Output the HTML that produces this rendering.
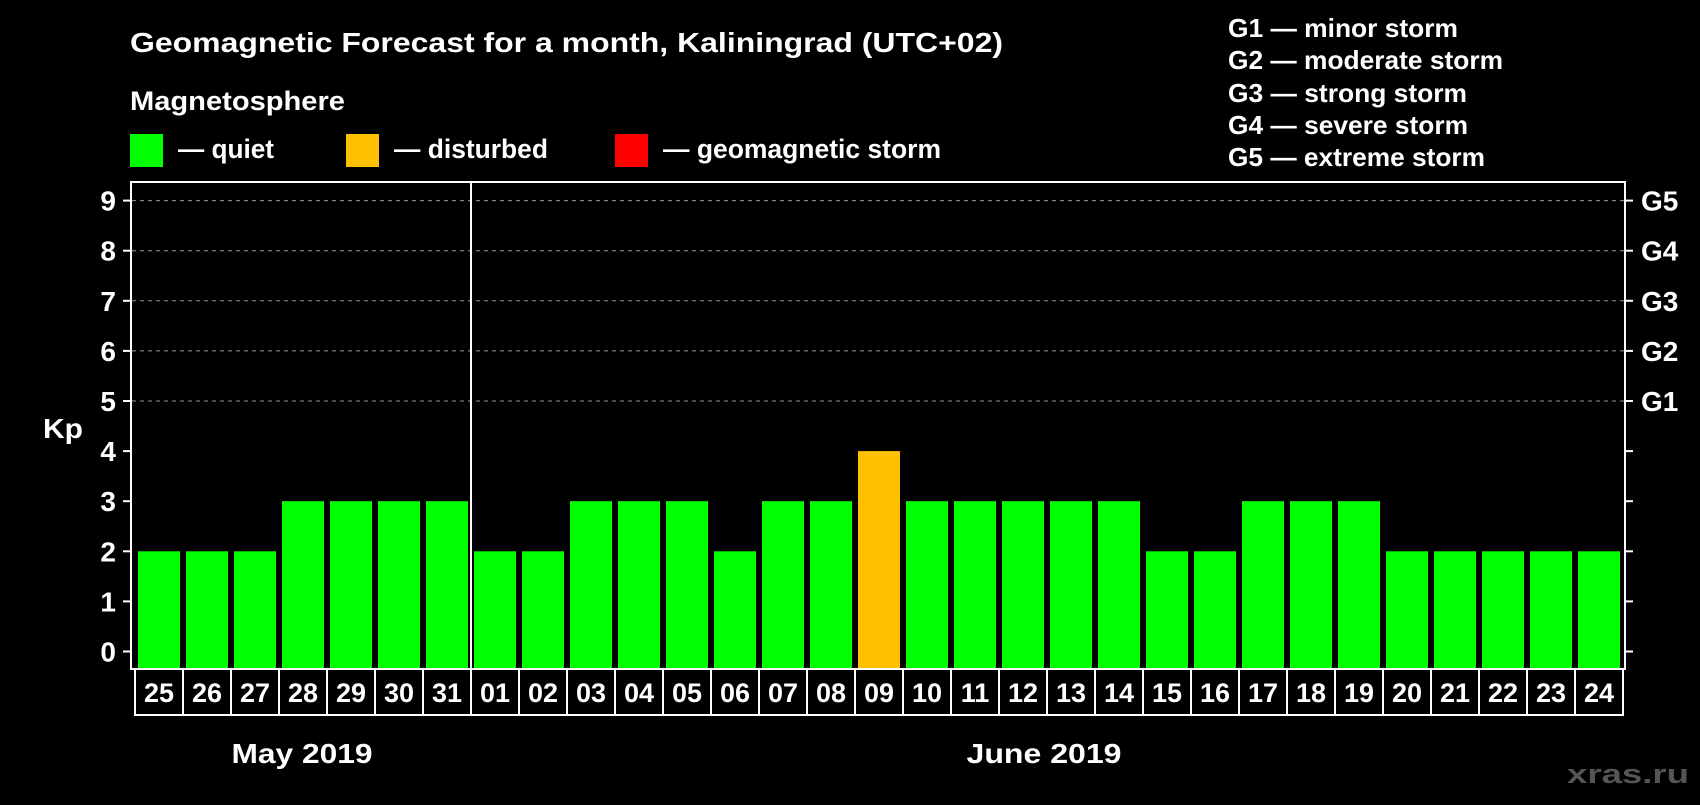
<!DOCTYPE html>
<html><head><meta charset="utf-8"><style>
html,body{margin:0;padding:0;background:#000;}
body{width:1700px;height:800px;overflow:hidden;font-family:"Liberation Sans",Arial,sans-serif;font-weight:bold;color:#fff;}
svg text{font-family:"Liberation Sans",Arial,sans-serif;font-weight:bold;}
</style></head><body>
<svg id="chart" width="1700" height="800" xmlns="http://www.w3.org/2000/svg">
<rect width="1700" height="800" fill="#000"/>
<text x="130" y="52" font-size="28" textLength="873" lengthAdjust="spacingAndGlyphs" fill="#fff">Geomagnetic Forecast for a month, Kaliningrad (UTC+02)</text>
<text x="130" y="110" font-size="27" textLength="215" lengthAdjust="spacingAndGlyphs" fill="#fff">Magnetosphere</text>
<g><rect x="130" y="134" width="33" height="33" fill="#00ff00"/><text x="178" y="158" font-size="27" textLength="96" lengthAdjust="spacingAndGlyphs" fill="#fff">— quiet</text></g>
<g><rect x="346" y="134" width="33" height="33" fill="#ffc000"/><text x="394" y="158" font-size="27" textLength="154" lengthAdjust="spacingAndGlyphs" fill="#fff">— disturbed</text></g>
<g><rect x="615" y="134" width="33" height="33" fill="#ff0000"/><text x="663" y="158" font-size="27" textLength="278" lengthAdjust="spacingAndGlyphs" fill="#fff">— geomagnetic storm</text></g>
<g font-size="26" fill="#fff">
<text x="1228" y="37" textLength="230" lengthAdjust="spacingAndGlyphs">G1 — minor storm</text>
<text x="1228" y="69" textLength="275" lengthAdjust="spacingAndGlyphs">G2 — moderate storm</text>
<text x="1228" y="102" textLength="239" lengthAdjust="spacingAndGlyphs">G3 — strong storm</text>
<text x="1228" y="134" textLength="240" lengthAdjust="spacingAndGlyphs">G4 — severe storm</text>
<text x="1228" y="166" textLength="257" lengthAdjust="spacingAndGlyphs">G5 — extreme storm</text>
</g>
<text x="43" y="438" font-size="28" textLength="40" lengthAdjust="spacingAndGlyphs" fill="#fff">Kp</text>
<g id="grid"></g>
<g id="bars"></g>
<rect x="131" y="182" width="1494" height="487" fill="none" stroke="#fff" stroke-width="2"/>
<line x1="471" y1="182" x2="471" y2="669" stroke="#fff" stroke-width="2"/>
<g id="dates"></g>
<text x="302" y="763" font-size="28" textLength="141" lengthAdjust="spacingAndGlyphs" fill="#fff" text-anchor="middle">May 2019</text>
<text x="1044" y="763" font-size="28" textLength="155" lengthAdjust="spacingAndGlyphs" fill="#fff" text-anchor="middle">June 2019</text>
<text x="1689" y="783" font-size="27" textLength="122" lengthAdjust="spacingAndGlyphs" fill="#555" text-anchor="end">xras.ru</text>
</svg>
<script>
const days = ["25","26","27","28","29","30","31","01","02","03","04","05","06","07","08","09","10","11","12","13","14","15","16","17","18","19","20","21","22","23","24"];
const kpValues = [2,2,2,3,3,3,3,2,2,3,3,3,2,3,3,4,3,3,3,3,3,2,2,3,3,3,2,2,2,2,2];
const yTicks = [0,1,2,3,4,5,6,7,8,9];
const gLabels = ["G1","G2","G3","G4","G5"];
const NS="http://www.w3.org/2000/svg";
const y0=651.5, unit=50.1, x0=135, pitch=48, barW=42, frameBottom=669, dateBottom=715;
const yS=v=>y0-v*unit;
const xS=i=>x0+i*pitch;
function mk(t,a,p){const e=document.createElementNS(NS,t);for(const k in a)e.setAttribute(k,a[k]);p.appendChild(e);return e;}
const grid=document.getElementById('grid');
yTicks.forEach(v=>{
  const y=yS(v);
  mk('line',{x1:123,y1:y,x2:131,y2:y,stroke:'#fff','stroke-width':2},grid);
  mk('line',{x1:1625,y1:y,x2:1633,y2:y,stroke:'#fff','stroke-width':2},grid);
  if(v>=5) mk('line',{x1:132,y1:y,x2:1624,y2:y,stroke:'#999','stroke-width':1,'stroke-dasharray':'4,4'},grid);
  const t=mk('text',{x:116,y:y+10,'font-size':28,fill:'#fff','text-anchor':'end'},grid);
  
  
  t.textContent=v;
});
gLabels.forEach((g,i)=>{
  const t=mk('text',{x:1641,y:yS(5+i)+10,'font-size':28,fill:'#fff'},grid);
  
  
  t.textContent=g;
});
const bars=document.getElementById('bars');
kpValues.forEach((v,i)=>{
  const col=v>=5?'#ff0000':(v>=4?'#ffc000':'#00ff00');
  const r=mk('rect',{x:xS(i)+3,y:yS(v),width:barW,height:frameBottom-yS(v),fill:col},bars);
  
  
});
const dates=document.getElementById('dates');
days.forEach((d,i)=>{
  const c=mk('rect',{x:xS(i),y:frameBottom,width:pitch,height:dateBottom-frameBottom,fill:'none',stroke:'#fff','stroke-width':2},dates);
  
  
  const t=mk('text',{x:xS(i)+pitch/2,y:702,'font-size':27,fill:'#fff','text-anchor':'middle'},dates);
  
  
  t.textContent=d;
});
</script>
</body></html>
